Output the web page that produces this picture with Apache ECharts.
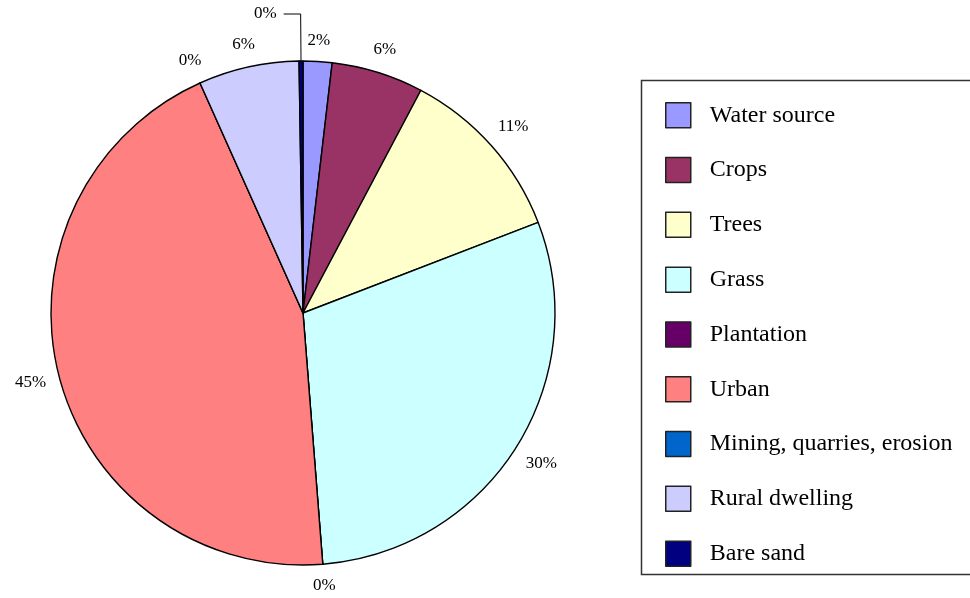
<!DOCTYPE html>
<html>
<head>
<meta charset="utf-8">
<script src="https://cdn.jsdelivr.net/npm/echarts@6/dist/echarts.min.js"></script>
<style>
  html, body { margin: 0; padding: 0; background: #fff; }
  #chart { width: 970px; height: 598px; }
</style>
</head>
<body>
<div id="chart"></div>
<script>
// Land-use categories and their share (percent) of the area
const categories = ['Water source', 'Crops', 'Trees', 'Grass', 'Plantation', 'Urban',
  'Mining, quarries, erosion', 'Rural dwelling', 'Bare sand'];
const shares = [1.85, 5.9, 11.4, 29.6, 0, 44.55, 0, 6.45, 0.25];
const colors = ['#9999FF', '#993366', '#FFFFCC', '#CCFFFF', '#660066', '#FF8080',
  '#0066CC', '#CCCCFF', '#000080'];

const FONT = '"Liberation Serif", "Times New Roman", serif';
const LABEL_GAP = 12; // gap between pie rim and the nearest edge of a label box

// the tiny "Bare sand" slice gets a leader line so its label clears the others
const leaderIndex = categories.indexOf('Bare sand');

const data = categories.map((name, i) => {
  const item = { name: name, value: shares[i], itemStyle: { color: colors[i] } };
  if (i === leaderIndex) {
    item.labelLine = {
      show: true, length: 47, length2: 17,
      lineStyle: { color: '#000', width: 1, opacity: 1 }
    };
    item.label = { distanceToLabelLine: 7 };
  }
  return item;
});

const chart = echarts.init(document.getElementById('chart'), null, { renderer: 'canvas' });
chart.setOption({
  backgroundColor: '#fff',
  animation: false,
  graphic: [{
    type: 'rect',
    shape: { x: 641.5, y: 80.5, width: 340, height: 494 },
    style: { fill: 'none', stroke: '#333', lineWidth: 1.5 },
    z: 0
  }],
  legend: {
    orient: 'vertical',
    left: 665,
    top: 102,
    itemWidth: 25,
    itemHeight: 25,
    itemGap: 28.3,
    icon: 'rect',
    padding: 0,
    selectedMode: false,
    itemStyle: { borderColor: '#222', borderWidth: 1.5 },
    textStyle: {
      fontFamily: FONT, fontSize: 24, color: '#000',
      padding: [0, 0, 0, 14]
    },
    data: categories
  },
  series: [{
    type: 'pie',
    center: [303, 313],
    radius: 252,
    startAngle: 90,
    clockwise: true,
    avoidLabelOverlap: false,
    stillShowZeroSum: true,
    emphasis: { disabled: true },
    itemStyle: { borderColor: '#000', borderWidth: 1.4 },
    label: {
      show: true,
      position: 'outside',
      fontFamily: FONT,
      fontSize: 17,
      color: '#000',
      formatter: p => Math.round(p.percent) + '%'
    },
    labelLine: {
      show: true, length: 20, length2: 0,
      lineStyle: { opacity: 0 }
    },
    // centre each label on the slice's mid-angle ray, just outside the rim
    labelLayout: function (p) {
      if (p.dataIndex === leaderIndex) return {};
      const pts = p.labelLinePoints;
      if (!pts || pts.length < 2) return {};
      let ux = pts[1][0] - pts[0][0];
      let uy = pts[1][1] - pts[0][1];
      const n = Math.hypot(ux, uy) || 1;
      ux /= n; uy /= n;
      const w = p.labelRect.width, h = p.labelRect.height;
      const e = Math.abs(ux) * w / 2 + Math.abs(uy) * h / 2;
      return {
        x: pts[0][0] + ux * (LABEL_GAP + e),
        y: pts[0][1] + uy * (LABEL_GAP + e),
        align: 'center',
        verticalAlign: 'middle'
      };
    },
    data: data
  }]
});
</script>
</body>
</html>
